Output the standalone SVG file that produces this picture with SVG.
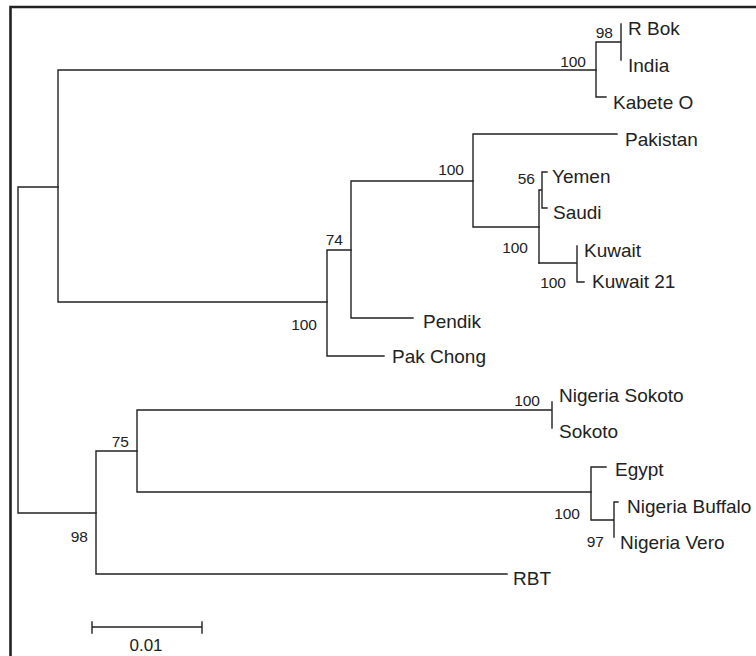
<svg xmlns="http://www.w3.org/2000/svg" width="756" height="656" viewBox="0 0 756 656">
<style>
.br{stroke:#222;stroke-width:1.4;fill:none;stroke-linecap:square}
.tx{font-family:"Liberation Sans",Arial,sans-serif;font-size:19px;fill:#222}
.bs{font-family:"Liberation Sans",Arial,sans-serif;font-size:15.5px;fill:#222}
.fr{stroke:#222;stroke-width:2.6;fill:none}
</style>
<rect width="756" height="656" fill="#fff"/>
<path class="fr" d="M10.5,656 V7 H756"/>
<g id="connectors">
<path class="br" d="M18,187 V513 M18,187 H58 M18,513 H96"/>
<path class="br" d="M58,70 V302 M58,70 H596 M58,302 H327"/>
<path class="br" d="M596,42 V97 M596,42 H621 M621,24 V60 M596,97 H606"/>
<path class="br" d="M327,250 V356 M327,250 H351 M327,356 H384"/>
<path class="br" d="M351,181 V318 M351,318 H413 M351,181 H473"/>
<path class="br" d="M473,134 V227 M473,134 H617 M473,227 H539"/>
<path class="br" d="M539,190 V263 M539,190 H542 M542,172 V208 M542,172 H547 M542,208 H547"/>
<path class="br" d="M539,263 H577 M577,246 V282 M577,282 H584"/>
<path class="br" d="M96,451 V574 M96,451 H137 M96,574 H507"/>
<path class="br" d="M137,410 V492 M137,410 H552 M552,402 V428 M137,492 H591"/>
<path class="br" d="M591,467 V520 M591,467 H606 M591,520 H614 M614,502 V537 M614,502 H618"/>
</g>
<g id="n-rbok"><text class="tx" x="628" y="35">R Bok</text></g>
<g id="n-india"><text class="tx" x="628" y="72">India</text></g>
<g id="n-kabete"><text class="tx" x="613" y="109">Kabete O</text></g>
<g id="n-pakistan"><text class="tx" x="625" y="146">Pakistan</text></g>
<g id="n-yemen"><text class="tx" x="552" y="183">Yemen</text></g>
<g id="n-saudi"><text class="tx" x="553" y="219">Saudi</text></g>
<g id="n-kuwait"><text class="tx" x="584" y="257">Kuwait</text></g>
<g id="n-kuwait21"><text class="tx" x="592" y="288">Kuwait 21</text></g>
<g id="n-pendik"><text class="tx" x="423" y="328">Pendik</text></g>
<g id="n-pakchong"><text class="tx" x="392" y="363">Pak Chong</text></g>
<g id="n-nsokoto"><text class="tx" x="559" y="402">Nigeria Sokoto</text></g>
<g id="n-sokoto"><text class="tx" x="559" y="438">Sokoto</text></g>
<g id="n-egypt"><text class="tx" x="615" y="476">Egypt</text></g>
<g id="n-nbuffalo"><text class="tx" x="627" y="513">Nigeria Buffalo</text></g>
<g id="n-nvero"><text class="tx" x="620" y="549">Nigeria Vero</text></g>
<g id="n-rbt"><text class="tx" x="513" y="585">RBT</text></g>
<g id="support" text-anchor="end">
<text class="bs" x="613" y="38">98</text>
<text class="bs" x="586" y="67">100</text>
<text class="bs" x="464" y="175">100</text>
<text class="bs" x="535" y="184">56</text>
<text class="bs" x="528" y="253">100</text>
<text class="bs" x="566" y="288">100</text>
<text class="bs" x="343" y="245">74</text>
<text class="bs" x="317" y="330">100</text>
<text class="bs" x="540" y="406">100</text>
<text class="bs" x="129" y="447">75</text>
<text class="bs" x="88" y="542">98</text>
<text class="bs" x="580" y="519">100</text>
<text class="bs" x="604" y="547">97</text>
</g>
<g id="scale">
<path class="br" d="M92,627 H202 M92,622 V633 M202,622 V633"/>
<text class="bs" x="146" y="651" text-anchor="middle" style="font-size:17px">0.01</text>
</g>
</svg>
